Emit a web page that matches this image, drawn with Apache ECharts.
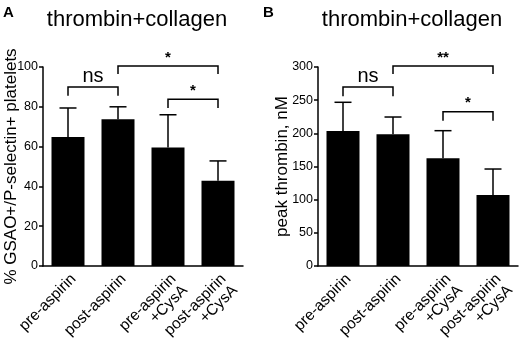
<!DOCTYPE html>
<html>
<head>
<meta charset="utf-8">
<script src="https://cdn.jsdelivr.net/npm/echarts@6/dist/echarts.min.js"></script>
<style>
  html, body { margin: 0; padding: 0; background: #fff; }
  #chart { width: 520px; height: 338px; }
</style>
</head>
<body>
<div id="chart"></div>
<script>
// categories shared by both panels
const categories = ['pre-aspirin', 'post-aspirin', 'pre-aspirin\n+CysA', 'post-aspirin\n+CysA']

// panel A: % GSAO+/P-selectin+ platelets
const gsaoMean = [64.8, 73.7, 59.6, 42.9]
const gsaoSd = [14.6, 6.3, 16.4, 9.9]
// [from, to, bracket top, leg end, label]
const gsaoBrackets = [
  [0, 1, 90, 85.6, 'ns'],
  [1, 3, 100.5, 96.5, '*'],
  [2, 3, 83.8, 79.4, '*'],
]

// panel B: peak thrombin, nM
const thrombinMean = [203.5, 198.5, 162.4, 107]
const thrombinSd = [43.3, 26.1, 41.6, 39.2]
const thrombinBrackets = [
  [0, 1, 270, 256, 'ns'],
  [1, 3, 301.5, 289.4, '**'],
  [2, 3, 232.6, 219, '*'],
]

const FONT = 'Liberation Sans, Arial, sans-serif'
const chart = echarts.init(document.getElementById('chart'))

const errData = (mean, sd) => mean.map((m, i) => [i, m, m + sd[i]])

const renderErr = (params, api) => {
  const base = api.coord([api.value(0), api.value(1)])
  const top = api.coord([api.value(0), api.value(2)])
  const style = { stroke: '#000', lineWidth: 1.5 }
  return {
    type: 'group',
    children: [
      { type: 'line', shape: { x1: base[0], y1: base[1], x2: top[0], y2: top[1] }, style },
      { type: 'line', shape: { x1: top[0] - 8.5, y1: top[1], x2: top[0] + 8.5, y2: top[1] }, style },
    ],
  }
}

const renderBracket = (params, api) => {
  const a = api.coord([api.value(0), api.value(2)])
  const b = api.coord([api.value(1), api.value(2)])
  const aLeg = api.coord([api.value(0), api.value(3)])
  const bLeg = api.coord([api.value(1), api.value(3)])
  const label = api.value(4)
  const isNs = label === 'ns'
  const style = { stroke: '#000', lineWidth: 1.5, fill: 'none' }
  return {
    type: 'group',
    children: [
      {
        type: 'polyline',
        shape: { points: [[aLeg[0], aLeg[1]], [a[0], a[1]], [b[0], b[1]], [bLeg[0], bLeg[1]]] },
        style,
      },
      {
        type: 'text',
        style: {
          text: label,
          x: (a[0] + b[0]) / 2,
          y: a[1] - (isNs ? 0 : 1),
          align: 'center',
          verticalAlign: 'bottom',
          font: (isNs ? '20px ' : 'bold 15px ') + FONT,
          fill: '#000',
        },
      },
    ],
  }
}

const makeX = (gridIndex) => ({
  type: 'category',
  gridIndex,
  data: categories,
  boundaryGap: true,
  axisLine: { lineStyle: { color: '#000', width: 1.5 } },
  axisTick: { alignWithLabel: true, length: 4, lineStyle: { color: '#000', width: 1.5 } },
  axisLabel: {
    rotate: 45, margin: 5, color: '#000', fontSize: 15.5, fontFamily: FONT,
    interval: 0, verticalAlign: 'top', lineHeight: 16,
  },
})

const makeY = (gridIndex, max, interval, name, nameGap) => ({
  type: 'value',
  gridIndex,
  min: 0,
  max,
  interval,
  name,
  nameLocation: 'middle',
  nameGap,
  nameMoveOverlap: false,
  nameTextStyle: { color: '#000', fontSize: 17, fontFamily: FONT },
  axisLine: { show: true, lineStyle: { color: '#000', width: 1.5 } },
  axisTick: { show: true, length: 4, lineStyle: { color: '#000', width: 1.5 } },
  axisLabel: { margin: 5, color: '#000', fontSize: 12.5, fontFamily: FONT },
  splitLine: { show: false },
})

const option = {
  backgroundColor: '#fff',
  animation: false,
  title: [
    { text: 'thrombin+collagen', left: 132, top: 4, textAlign: 'center',
      textStyle: { fontSize: 22, fontWeight: 'normal', color: '#000', fontFamily: FONT } },
    { text: 'thrombin+collagen', left: 407, top: 4, textAlign: 'center',
      textStyle: { fontSize: 22, fontWeight: 'normal', color: '#000', fontFamily: FONT } },
  ],
  graphic: [
    { type: 'text', left: 3, top: 5, style: { text: 'A', font: 'bold 15px ' + FONT, fill: '#000' } },
    { type: 'text', left: 263, top: 5, style: { text: 'B', font: 'bold 15px ' + FONT, fill: '#000' } },
  ],
  grid: [
    { left: 43, top: 67, width: 200, bottom: 72, outerBoundsMode: 'none' },
    { left: 318, top: 67, width: 200, bottom: 72, outerBoundsMode: 'none' },
  ],
  xAxis: [makeX(0), makeX(1)],
  yAxis: [
    makeY(0, 100, 20, '% GSAO+/P-selectin+ platelets', 23),
    makeY(1, 300, 50, 'peak thrombin, nM', 27),
  ],
  series: [
    { type: 'bar', xAxisIndex: 0, yAxisIndex: 0, data: gsaoMean, barWidth: 33, itemStyle: { color: '#000' } },
    { type: 'custom', xAxisIndex: 0, yAxisIndex: 0, data: errData(gsaoMean, gsaoSd), renderItem: renderErr, z: 1 },
    { type: 'custom', xAxisIndex: 0, yAxisIndex: 0, data: gsaoBrackets, renderItem: renderBracket },
    { type: 'bar', xAxisIndex: 1, yAxisIndex: 1, data: thrombinMean, barWidth: 33, itemStyle: { color: '#000' } },
    { type: 'custom', xAxisIndex: 1, yAxisIndex: 1, data: errData(thrombinMean, thrombinSd), renderItem: renderErr, z: 1 },
    { type: 'custom', xAxisIndex: 1, yAxisIndex: 1, data: thrombinBrackets, renderItem: renderBracket },
  ],
}

chart.setOption(option)
</script>
</body>
</html>
